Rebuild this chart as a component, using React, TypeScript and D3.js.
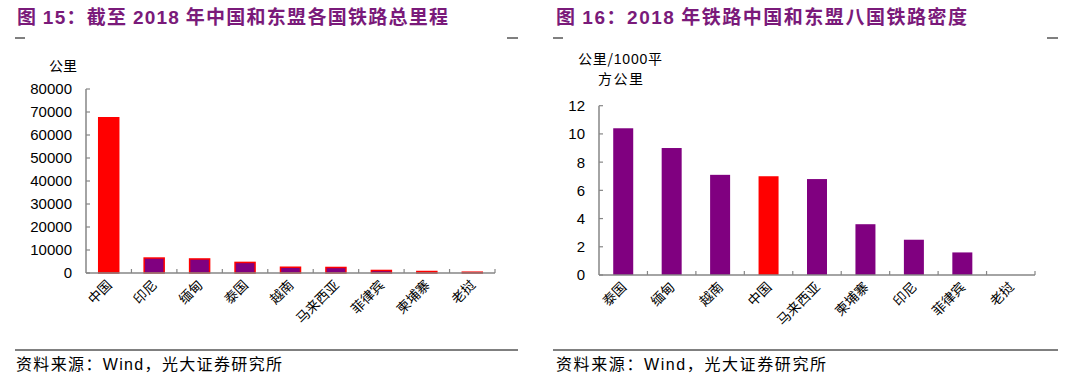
import React from "react";
import * as d3 from "d3";

const leftCategories = ["中国", "印尼", "缅甸", "泰国", "越南", "马来西亚", "菲律宾", "柬埔寨", "老挝"];
const leftValues = [67500, 6500, 6100, 4600, 2500, 2400, 1100, 650, 350];
const leftTicks = [0, 10000, 20000, 30000, 40000, 50000, 60000, 70000, 80000];

const rightCategories = ["泰国", "缅甸", "越南", "中国", "马来西亚", "柬埔寨", "印尼", "菲律宾", "老挝"];
const rightValues = [10.4, 9.0, 7.1, 7.0, 6.8, 3.6, 2.5, 1.6, 0];
const rightTicks = [0, 2, 4, 6, 8, 10, 12];

const PURPLE = "#800080";
const RED = "#ff0000";
const AXIS = "#868686";
const TITLE = "#7a1a7a";
const CJK = "'Noto Sans CJK SC', sans-serif";
const LAT = "'Liberation Sans', Arial, sans-serif";

type ChartProps = {
  categories: string[];
  values: number[];
  ticks: number[];
  x0: number;
  x1: number;
  yTop: number;
  yBottom: number;
  yMax: number;
  stroked: boolean;
  labelRight: number;
};

function Chart({ categories, values, ticks, x0, x1, yTop, yBottom, yMax, stroked, labelRight }: ChartProps) {
  const x = d3.scaleBand<string>().domain(categories).range([x0, x1]).paddingInner(0).paddingOuter(0);
  const y = d3.scaleLinear().domain([0, yMax]).range([yBottom, yTop]);
  const bw = 20;
  return (
    <g>
      {categories.map((c, i) => {
        const cx = (x(c) as number) + x.bandwidth() / 2;
        const v = values[i];
        if (v <= 0) return null;
        const isChina = c === "中国";
        return (
          <rect
            key={c}
            x={cx - bw / 2}
            y={y(v)}
            width={bw}
            height={yBottom - y(v)}
            fill={isChina ? RED : PURPLE}
            stroke={stroked ? RED : "none"}
            strokeWidth={stroked ? 1.5 : 0}
          />
        );
      })}
      <line x1={x0} x2={x0} y1={yTop} y2={yBottom} stroke={AXIS} strokeWidth={1.5} />
      <line x1={x0} x2={x1} y1={yBottom} y2={yBottom} stroke={AXIS} strokeWidth={1.5} />
      {ticks.map((t) => (
        <g key={t}>
          <line x1={x0} x2={x0 + 4} y1={y(t)} y2={y(t)} stroke={AXIS} strokeWidth={1.2} />
          <text x={labelRight} y={y(t)} dy="0.36em" textAnchor="end" fontFamily={LAT} fontSize={15} fill="#000">
            {t}
          </text>
        </g>
      ))}
      {categories.map((c) => {
        const bx = (x(c) as number) + x.bandwidth();
        return <line key={"t" + c} x1={bx} x2={bx} y1={yBottom} y2={yBottom - 4} stroke={AXIS} strokeWidth={1.2} />;
      })}
      {categories.map((c) => {
        const cx = (x(c) as number) + x.bandwidth() / 2;
        const lx = cx + 4;
        const ly = yBottom + 13;
        return (
          <text
            key={"l" + c}
            x={lx}
            y={ly}
            textAnchor="end"
            fontFamily={CJK}
            fontSize={13.5}
            fill="#000"
            transform={`rotate(-45, ${lx}, ${ly})`}
          >
            {c}
          </text>
        );
      })}
    </g>
  );
}

export default function App() {
  return (
    <svg width={1068} height={381} style={{ position: "absolute", left: 0, top: 0, background: "#fff" }}>
      <rect x={0} y={0} width={1068} height={381} fill="#fff" />
      {/* Left panel */}
      <text x={17} y={24} fontFamily={CJK} fontWeight={700} fontSize={19} fill={TITLE} textLength={431} lengthAdjust="spacing">
        图 <tspan fontFamily={LAT}>15</tspan>：截至 <tspan fontFamily={LAT}>2018</tspan> 年中国和东盟各国铁路总里程
      </text>
      <line x1={15} x2={25} y1={38} y2={38} stroke="#000" strokeWidth={1} />
      <line x1={507} x2={518} y1={38} y2={38} stroke="#000" strokeWidth={1} />
      <text x={49} y={71} fontFamily={CJK} fontSize={14} fill="#000">公里</text>
      <Chart
        categories={leftCategories}
        values={leftValues}
        ticks={leftTicks}
        x0={86}
        x1={495}
        yTop={89}
        yBottom={273}
        yMax={80000}
        stroked={true}
        labelRight={72}
      />
      <line x1={15} x2={518} y1={350} y2={350} stroke="#000" strokeWidth={1} />
      <text x={16} y={370} fontFamily={CJK} fontSize={16} fill="#000" textLength={266} lengthAdjust="spacing">
        资料来源：<tspan fontFamily={LAT}>Wind</tspan>，光大证券研究所
      </text>

      {/* Right panel */}
      <text x={556} y={24} fontFamily={CJK} fontWeight={700} fontSize={19} fill={TITLE} textLength={411} lengthAdjust="spacing">
        图 <tspan fontFamily={LAT}>16</tspan>：<tspan fontFamily={LAT}>2018</tspan> 年铁路中国和东盟八国铁路密度
      </text>
      <line x1={553} x2={563} y1={38} y2={38} stroke="#000" strokeWidth={1} />
      <line x1={1047} x2={1058} y1={38} y2={38} stroke="#000" strokeWidth={1} />
      <text x={578} y={64} fontFamily={CJK} fontSize={14} fill="#000" textLength={84} lengthAdjust="spacing">
        公里/<tspan fontFamily={LAT}>1000</tspan>平
      </text>
      <text x={598} y={84} fontFamily={CJK} fontSize={14} fill="#000" textLength={45} lengthAdjust="spacing">方公里</text>
      <Chart
        categories={rightCategories}
        values={rightValues}
        ticks={rightTicks}
        x0={599}
        x1={1035}
        yTop={105.7}
        yBottom={275}
        yMax={12}
        stroked={false}
        labelRight={585}
      />
      <line x1={553} x2={1058} y1={350} y2={350} stroke="#000" strokeWidth={1} />
      <text x={556} y={370} fontFamily={CJK} fontSize={16} fill="#000" textLength={270} lengthAdjust="spacing">
        资料来源：<tspan fontFamily={LAT}>Wind</tspan>，光大证券研究所
      </text>
    </svg>
  );
}
